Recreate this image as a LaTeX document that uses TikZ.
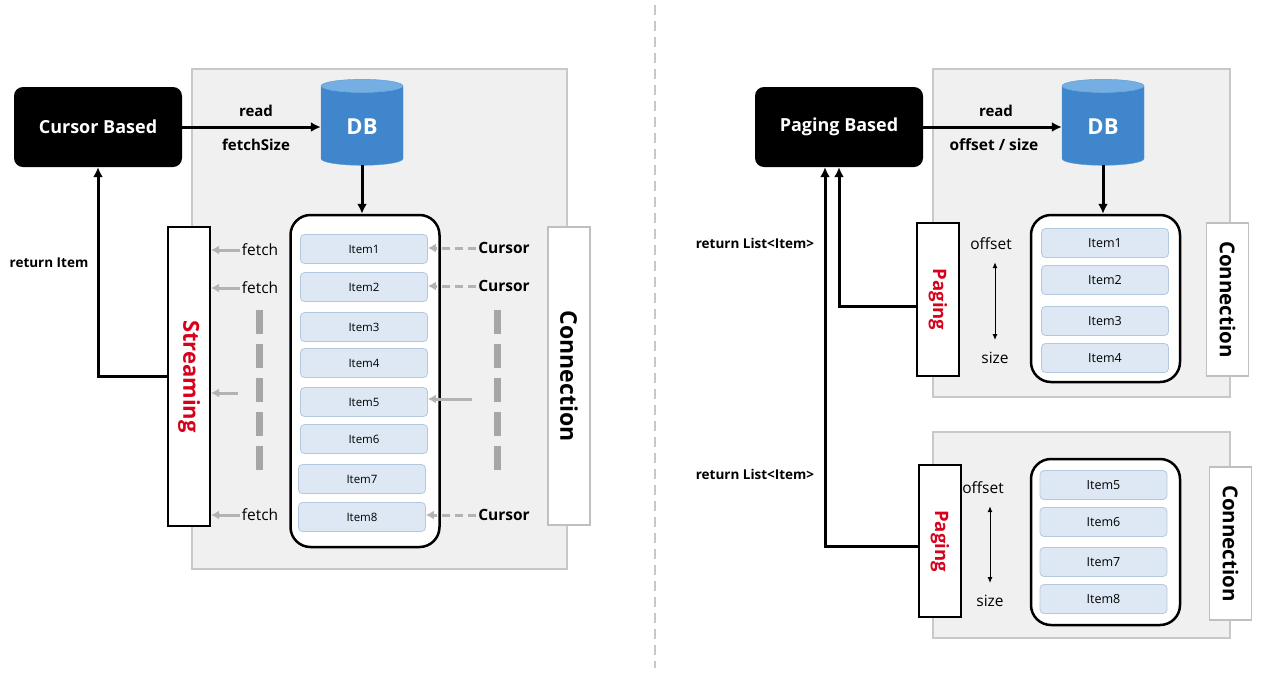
\documentclass[tikz,border=0pt]{standalone}
\usepackage{fontspec}
\setmainfont{Open Sans}
\usetikzlibrary{positioning,shapes.geometric,arrows.meta,calc}
\definecolor{panelfill}{HTML}{F0F0F0}
\definecolor{panelline}{HTML}{C8C8C8}
\definecolor{itemfill}{HTML}{DDE8F4}
\definecolor{itemline}{HTML}{B4C8DE}
\definecolor{greytip}{HTML}{B3B3B3}
\definecolor{greybarc}{HTML}{A6A6A6}
\definecolor{streamred}{HTML}{D9001B}
\definecolor{dbbody}{HTML}{3F86CC}
\definecolor{dbtop}{HTML}{74AEE3}
\definecolor{dbrim}{HTML}{5A9AD6}
\definecolor{conline}{HTML}{C0C0C0}
\newcommand{\pxfont}[1]{\fontsize{#1}{#1}\selectfont}

\begin{document}
\begin{tikzpicture}[x=1pt,y=-1pt,
    basebox/.style={fill=black, text=white, rounded corners=9pt, minimum width=168pt,
      minimum height=80pt, font={\bfseries\pxfont{18}}},
    dbnode/.style={cylinder, shape border rotate=90, aspect=0.35, minimum width=82pt,
      minimum height=86pt, draw=dbrim, cylinder uses custom fill, cylinder body fill=dbbody,
      cylinder end fill=dbtop, text=white, font={\bfseries\pxfont{22}}},
    panel/.style={draw=panelline, fill=panelfill, line width=1.2pt},
    holder/.style={draw, line width=2.5pt, fill=white, rounded corners=20pt},
    itembox/.style={draw=itemline, fill=itemfill, line width=0.8pt, rounded corners=4pt,
      minimum width=127pt, minimum height=29pt, inner sep=0pt},
    sidebar/.style={draw, line width=2pt, fill=white, minimum height=42pt, text=streamred},
    conbox/.style={draw=conline, line width=1.2pt, fill=white, minimum height=42pt},
    lbl/.style={font={\bfseries\pxfont{15}}, inner sep=1pt},
    retlbl/.style={font={\bfseries\pxfont{13.5}}, inner sep=1pt},
    plain/.style={font={\pxfont{15.5}}, inner sep=2pt},
    curlbl/.style={font={\bfseries\pxfont{15.5}}, inner sep=2pt},
    blackarrow/.style={line width=3pt, -{Latex[length=10pt,width=10pt]}},
    greyarrow/.style={draw=greytip, line width=3pt, -{Latex[length=8pt,width=9pt]}},
    greydash/.style={greyarrow, dash pattern=on 8pt off 5pt},
    greybar/.style={draw=greybarc, line width=7pt, dash pattern=on 24pt off 10pt},
    spanarrow/.style={line width=1pt, {Latex[length=6pt,width=5pt]}-{Latex[length=6pt,width=5pt]},
      shorten <=10pt, shorten >=10pt},
    sepline/.style={draw=panelline, line width=2.5pt, dash pattern=on 10pt off 6pt}]
  \useasboundingbox (0,0) rectangle (1262,673);

  % grey panels and separator
  \draw[panel] (192,69) rectangle (567,569);
  \draw[panel] (933,69) rectangle (1230,397);
  \draw[panel] (933,432) rectangle (1230,638);
  \draw[sepline] (655,5) -- (655,668);

  % cursor based
  \node[basebox] (cbase) at (98,127) {Cursor Based};
  \node[dbnode] (db1) at (362,127) {DB};
  \node[holder, minimum width=149pt, minimum height=332pt] (hold1) at (365,381) {};
  \foreach \n/\x/\y in {1/364/249,2/364/287,3/364/327,4/364/363,5/364/402,6/364/439,7/362/479,8/362/517}
    \node[itembox, font=\pxfont{11.5}] (it\n) at (\x,\y) {Item\n};
  \node[sidebar, rotate=-90, minimum width=299pt, font={\bfseries\pxfont{22}}] (stream) at (189,376.5) {Streaming};
  \node[conbox, rotate=-90, minimum width=298pt, font={\bfseries\pxfont{23}}] (conn1) at (569,376) {Connection};

  \node[lbl] (rd1) at (256,111) {read};
  \node[lbl] (fs1) at (256,145) {fetchSize};
  \draw[blackarrow] (cbase) -- (db1);
  \draw[blackarrow] (db1) -- (db1 |- hold1.north);
  \draw[blackarrow] (stream.south) -| (cbase.south);
  \node[retlbl] (ret1) at (49,263) {return Item};

  \foreach \n/\y in {1/250,2/288,3/515} {
    \node[plain] (f\n) at (260,\y) {fetch};
    \draw[greyarrow] (f\n.west) -- (f\n.west -| stream.north);
  }
  \coordinate (f4) at (238,393);
  \draw[greyarrow] (f4) -- (f4 -| stream.north);

  \foreach \n/\y/\t in {1/248/1,2/286/2,3/515/8} {
    \node[curlbl] (c\n) at (504,\y) {Cursor};
    \draw[greydash] (c\n.west) -- (c\n.west -| it\t.east);
  }
  \coordinate (c4) at (472,399);
  \draw[greyarrow] (c4) -- (c4 -| it5.east);

  \draw[greybar] (259,310) -- (259,470);
  \draw[greybar] (497,310) -- (497,470);

  % paging based
  \node[basebox] (pbase) at (839,127) {Paging Based};
  \node[dbnode] (db2) at (1103,127) {DB};
  \node[lbl] (rd2) at (996,111) {read};
  \node[lbl, font={\bfseries\pxfont{15.5}}] (os2) at (994,145) {offset / size};
  \draw[blackarrow] (pbase) -- (db2);

  \node[holder, minimum width=149pt, minimum height=167pt] (hold2) at (1105.5,298.5) {};
  \node[holder, minimum width=149pt, minimum height=166pt] (hold3) at (1105.5,542) {};
  \draw[blackarrow] (db2) -- (db2 |- hold2.north);
  \foreach \n/\x/\y in {1/1105/243,2/1105/280,3/1105/321,4/1105/358,5/1103.5/485,6/1103.5/522,7/1103.5/562,8/1103.5/599}
    \node[itembox, font=\pxfont{12.5}] (pit\n) at (\x,\y) {Item\n};

  \node[sidebar, rotate=-90, minimum width=153pt, font={\bfseries\pxfont{18.5}}] (page1) at (938,299.5) {Paging};
  \node[sidebar, rotate=-90, minimum width=152pt, font={\bfseries\pxfont{18.5}}] (page2) at (940,541) {Paging};
  \node[conbox, rotate=-90, minimum width=153pt, font={\bfseries\pxfont{20.5}}] (conn2) at (1227.5,299.5) {Connection};
  \node[conbox, rotate=-90, minimum width=153pt, font={\bfseries\pxfont{20.5}}] (conn3) at (1230.5,543.5) {Connection};

  \node[plain] (off1) at (991,244) {offset};
  \node[plain] (size1) at (995,358) {size};
  \draw[spanarrow] (size1.north |- off1.south) -- (size1.north);
  \node[plain] (off2) at (983,488) {offset};
  \node[plain] (size2) at (990,601) {size};
  \draw[spanarrow] (size2.north |- off2.south) -- (size2.north);

  \draw[blackarrow] ([yshift=-7pt]page1.south) -| (pbase.south);
  \draw[blackarrow] ([yshift=-5pt]page2.south) -| ([xshift=-14pt]pbase.south);
  \node[retlbl] (ret2) at (755,243) {return List<Item>};
  \node[retlbl] (ret3) at (755,474) {return List<Item>};
\end{tikzpicture}
\end{document}
